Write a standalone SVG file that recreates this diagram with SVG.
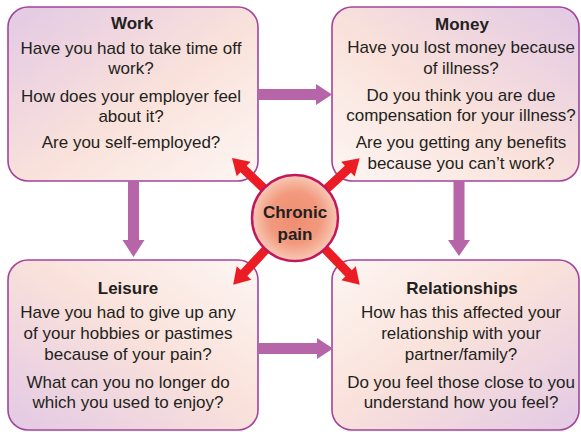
<svg xmlns="http://www.w3.org/2000/svg" width="581" height="432" viewBox="0 0 581 432">
<defs>
<linearGradient id="gWork" x1="0" y1="0" x2="1" y2="1">
<stop offset="0" stop-color="#e3c9e4"/><stop offset="0.55" stop-color="#fae2db"/><stop offset="1" stop-color="#fdf6f3"/>
</linearGradient>
<linearGradient id="gMoney" x1="1" y1="0" x2="0" y2="1">
<stop offset="0" stop-color="#e3c9e4"/><stop offset="0.55" stop-color="#fae2db"/><stop offset="1" stop-color="#fdf6f3"/>
</linearGradient>
<linearGradient id="gLeisure" x1="0" y1="1" x2="1" y2="0">
<stop offset="0" stop-color="#e3c9e4"/><stop offset="0.55" stop-color="#fae2db"/><stop offset="1" stop-color="#fdf6f3"/>
</linearGradient>
<linearGradient id="gRel" x1="1" y1="1" x2="0" y2="0">
<stop offset="0" stop-color="#e3c9e4"/><stop offset="0.55" stop-color="#fae2db"/><stop offset="1" stop-color="#fdf6f3"/>
</linearGradient>
<radialGradient id="gPain" cx="0.5" cy="0.5" r="0.5">
<stop offset="0" stop-color="#ef8c70"/><stop offset="0.6" stop-color="#f29a7e"/><stop offset="1" stop-color="#f9c9b6"/>
</radialGradient>
<style>
.box{stroke:#a3449b;stroke-width:1.6}
.t{font-family:"Liberation Sans",Arial,sans-serif;font-size:17px;fill:#231f20;text-anchor:middle}
.h{font-weight:bold}
.pa{fill:#b565a8}
.ra{fill:#ec1c24}
</style>
</defs>

<g id="work">
<rect class="box" x="8" y="7" width="250" height="174" rx="20" fill="url(#gWork)"/>
<text class="t h" x="132" y="29">Work</text>
<text class="t" x="131" y="54">Have you had to take time off</text>
<text class="t" x="131" y="74">work?</text>
<text class="t" x="131" y="102">How does your employer feel</text>
<text class="t" x="131" y="122">about it?</text>
<text class="t" x="131" y="148">Are you self-employed?</text>
</g>

<g id="money">
<rect class="box" x="332" y="7" width="247" height="174" rx="20" fill="url(#gMoney)"/>
<text class="t h" x="462" y="30">Money</text>
<text class="t" x="461" y="53">Have you lost money because</text>
<text class="t" x="461" y="74">of illness?</text>
<text class="t" x="461" y="101">Do you think you are due</text>
<text class="t" x="461" y="121">compensation for your illness?</text>
<text class="t" x="461" y="148">Are you getting any benefits</text>
<text class="t" x="461" y="169">because you can’t work?</text>
</g>

<g id="leisure">
<rect class="box" x="8" y="260" width="250" height="170" rx="20" fill="url(#gLeisure)"/>
<text class="t h" x="128" y="294">Leisure</text>
<text class="t" x="128" y="318">Have you had to give up any</text>
<text class="t" x="128" y="339">of your hobbies or pastimes</text>
<text class="t" x="128" y="360">because of your pain?</text>
<text class="t" x="128" y="388">What can you no longer do</text>
<text class="t" x="128" y="408">which you used to enjoy?</text>
</g>

<g id="relationships">
<rect class="box" x="332" y="260" width="247" height="170" rx="20" fill="url(#gRel)"/>
<text class="t h" x="462" y="294">Relationships</text>
<text class="t" x="461" y="318">How has this affected your</text>
<text class="t" x="461" y="339">relationship with your</text>
<text class="t" x="461" y="360">partner/family?</text>
<text class="t" x="461" y="388">Do you feel those close to you</text>
<text class="t" x="461" y="408">understand how you feel?</text>
</g>

<g id="connectors">
<polygon class="pa" points="258,89 316,89 316,84 332,94.5 316,105 316,100 258,100"/>
<polygon class="pa" points="258,343 317,343 317,338 333,348.5 317,359 317,354 258,354"/>
<polygon class="pa" points="128,181 139,181 139,240 144.5,240 133.5,257 122.5,240 128,240"/>
<polygon class="pa" points="453.5,181 464.5,181 464.5,240 470,240 459,256 448,240 453.5,240"/>
<path class="ra" transform="translate(295,218) rotate(223.6)" d="M30,-4.5 L71,-4.5 L71,-10 L87,0 L71,10 L71,4.5 L30,4.5 Z"/>
<path class="ra" transform="translate(295,218) rotate(-42.7)" d="M30,-4.5 L72,-4.5 L72,-10 L88,0 L72,10 L72,4.5 L30,4.5 Z"/>
<path class="ra" transform="translate(295,218) rotate(132.8)" d="M30,-4.5 L75,-4.5 L75,-10 L91,0 L75,10 L75,4.5 L30,4.5 Z"/>
<path class="ra" transform="translate(295,218) rotate(45.9)" d="M30,-4.5 L77,-4.5 L77,-10 L93,0 L77,10 L77,4.5 L30,4.5 Z"/>
</g>

<g id="chronic-pain">
<circle cx="295" cy="218" r="43" fill="url(#gPain)" stroke="#c2185b" stroke-width="2.5"/>
<text class="t h" x="295" y="218">Chronic</text>
<text class="t h" x="295" y="240">pain</text>
</g>
</svg>
